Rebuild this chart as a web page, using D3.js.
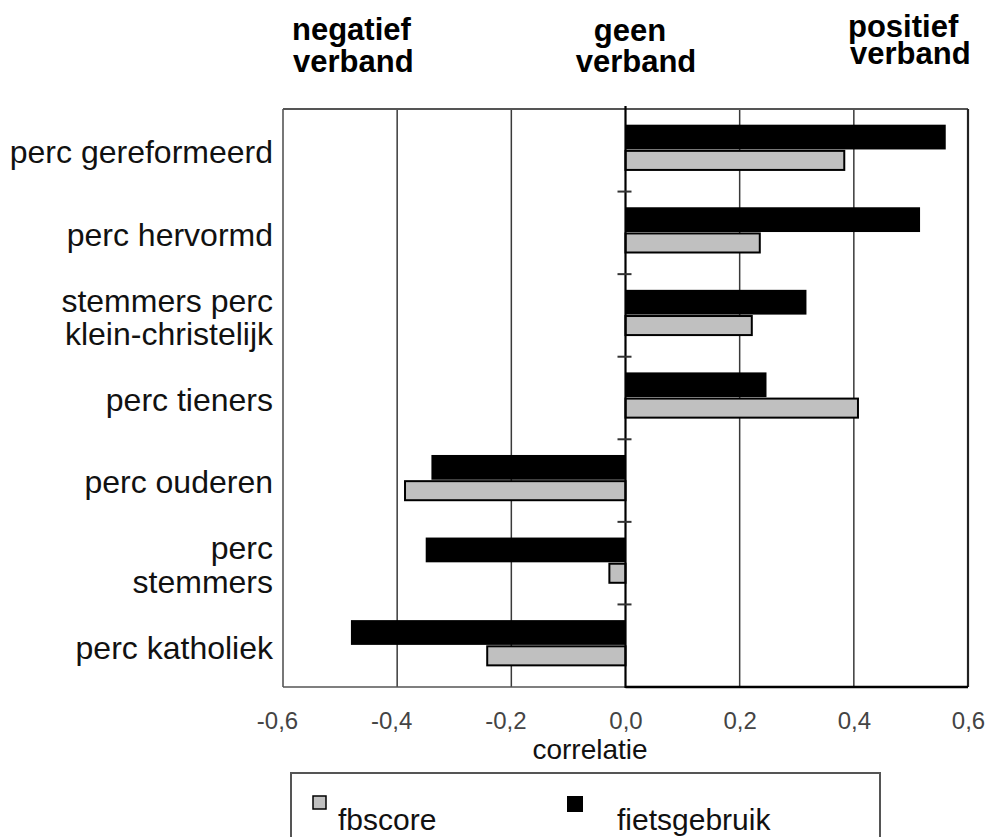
<!DOCTYPE html>
<html>
<head>
<meta charset="utf-8">
<script src="https://cdn.jsdelivr.net/npm/d3@7"></script>
<style>
  html, body { margin: 0; padding: 0; background: #fff; }
  svg { display: block; font-family: "Liberation Sans", Arial, sans-serif; }
</style>
</head>
<body>
<svg id="chart" width="987" height="837"></svg>
<script>
// ---- data ----
const categories = [
  "perc gereformeerd",
  "perc hervormd",
  "stemmers perc|klein-christelijk",
  "perc tieners",
  "perc ouderen",
  "perc|stemmers",
  "perc katholiek"
];
const fbscore      = [0.385, 0.237, 0.223, 0.409, -0.388, -0.030, -0.244];
const fietsgebruik = [0.561, 0.516, 0.317, 0.247, -0.340, -0.350, -0.481];
const xTicks = [-0.6, -0.4, -0.2, 0.0, 0.2, 0.4, 0.6];
const seriesNames = ["fbscore", "fietsgebruik"];
const headerLabels = [["negatief", "verband"], ["geen", "verband"], ["positief", "verband"]];

// ---- layout ----
const svg = d3.select("#chart");
const L = 283, R = 968, T = 109, B = 687;
const x = d3.scaleLinear().domain([-0.6, 0.6]).range([L, R]);
const y = d3.scaleBand().domain(categories).range([T, B]);
const bw = y.bandwidth();
const loc = d3.formatLocale({decimal: ",", thousands: ".", grouping: [3], currency: ["", ""], minus: "-"});
const fmt = loc.format(".1f");

// gridlines
svg.append("g").selectAll("line")
  .data(xTicks.filter(d => d !== 0 && Math.abs(d) < 0.6))
  .join("line")
  .attr("x1", d => x(d)).attr("x2", d => x(d))
  .attr("y1", T).attr("y2", B)
  .attr("stroke", "#3a3a3a").attr("stroke-width", 1.5);

// frame
svg.append("line").attr("x1", L).attr("x2", L).attr("y1", T).attr("y2", B).attr("stroke", "#555").attr("stroke-width", 1.6);
svg.append("line").attr("x1", L).attr("x2", R).attr("y1", T).attr("y2", T).attr("stroke", "#555").attr("stroke-width", 2);
svg.append("line").attr("x1", R).attr("x2", R).attr("y1", T).attr("y2", B).attr("stroke", "#222").attr("stroke-width", 2.2);
svg.append("line").attr("x1", L).attr("x2", x(0)).attr("y1", B).attr("y2", B).attr("stroke", "#555").attr("stroke-width", 1.6);
svg.append("line").attr("x1", x(0)).attr("x2", R).attr("y1", B).attr("y2", B).attr("stroke", "#000").attr("stroke-width", 2.6);

// bars
const rows = categories.map((c, i) => ({c, fb: fbscore[i], fg: fietsgebruik[i]}));
svg.append("g").selectAll("rect")
  .data(rows).join("rect")
  .attr("x", d => Math.min(x(0), x(d.fg)))
  .attr("width", d => Math.abs(x(d.fg) - x(0)))
  .attr("y", d => y(d.c) + bw * 0.19)
  .attr("height", bw * 0.30)
  .attr("fill", "#000");
svg.append("g").selectAll("rect")
  .data(rows).join("rect")
  .attr("x", d => Math.min(x(0), x(d.fb)) + (d.fb < 0 ? 1 : 0))
  .attr("width", d => Math.abs(x(d.fb) - x(0)) - 1)
  .attr("y", d => y(d.c) + bw * 0.495 + 1)
  .attr("height", bw * 0.255 - 2)
  .attr("fill", "#c0c0c0")
  .attr("stroke", "#000").attr("stroke-width", 2);

// zero axis
svg.append("line").attr("x1", x(0)).attr("x2", x(0)).attr("y1", T - 3).attr("y2", B + 1).attr("stroke", "#000").attr("stroke-width", 2.2);
// category tick marks
svg.append("g").selectAll("line")
  .data(categories.slice(1))
  .join("line")
  .attr("x1", x(0) - 8).attr("x2", x(0) + 6)
  .attr("y1", d => y(d)).attr("y2", d => y(d))
  .attr("stroke", "#333").attr("stroke-width", 2);

// category labels
const lab = svg.append("g").attr("font-size", 32).attr("fill", "#111").attr("text-anchor", "end");
rows.forEach(r => {
  const lines = r.c.split("|");
  const base = y(r.c) + bw * 0.655;
  const t = lab.append("text").attr("x", 273).attr("y", base + (lines.length === 1 ? 0 : -16.7));
  lines.forEach((s, k) => {
    t.append("tspan").attr("x", 273).attr("dy", k === 0 ? 0 : 33.4).text(s);
  });
});

// x axis
const xAxis = d3.axisBottom(x).tickValues(xTicks).tickFormat(fmt).tickSize(0).tickPadding(0);
const ax = svg.append("g").attr("transform", `translate(0,${B})`).call(xAxis);
ax.select(".domain").remove();
ax.selectAll("text")
  .attr("font-family", "'Liberation Sans', Arial, sans-serif")
  .attr("font-size", 24).attr("fill", "#444")
  .attr("dy", 0).attr("y", 42)
  .attr("dx", d => d < 0 ? -6 : 0);

svg.append("text").attr("x", 590).attr("y", 759).attr("text-anchor", "middle")
  .attr("font-size", 28).attr("fill", "#111").text("correlatie");

// headers
const hdr = svg.append("g").attr("font-size", 31).attr("font-weight", "bold").attr("fill", "#000");
const hdrPos = [
  {x: [292, 293], y: [40, 72], a: "start"},
  {x: [630, 636], y: [41, 72], a: "middle"},
  {x: [848, 850], y: [37, 64], a: "start"}
];
headerLabels.forEach((pair, i) => {
  const t = hdr.append("text").attr("text-anchor", hdrPos[i].a);
  pair.forEach((s, k) => {
    t.append("tspan").attr("x", hdrPos[i].x[k]).attr("y", hdrPos[i].y[k]).text(s);
  });
});

// legend
svg.append("rect").attr("x", 291).attr("y", 773).attr("width", 589).attr("height", 80)
  .attr("fill", "none").attr("stroke", "#555").attr("stroke-width", 2);
const legendFills = ["#c0c0c0", "#000"];
const legX = [313, 567];
const legTX = [338, 617];
seriesNames.forEach((n, i) => {
  svg.append("rect").attr("x", legX[i]).attr("y", 796).attr("width", i ? 16 : 13).attr("height", i ? 16 : 13)
    .attr("fill", legendFills[i]).attr("stroke", "#000").attr("stroke-width", i ? 0 : 1.5);
  svg.append("text").attr("x", legTX[i]).attr("y", 830).attr("font-size", 30).attr("fill", "#111").text(n);
});
</script>
</body>
</html>
